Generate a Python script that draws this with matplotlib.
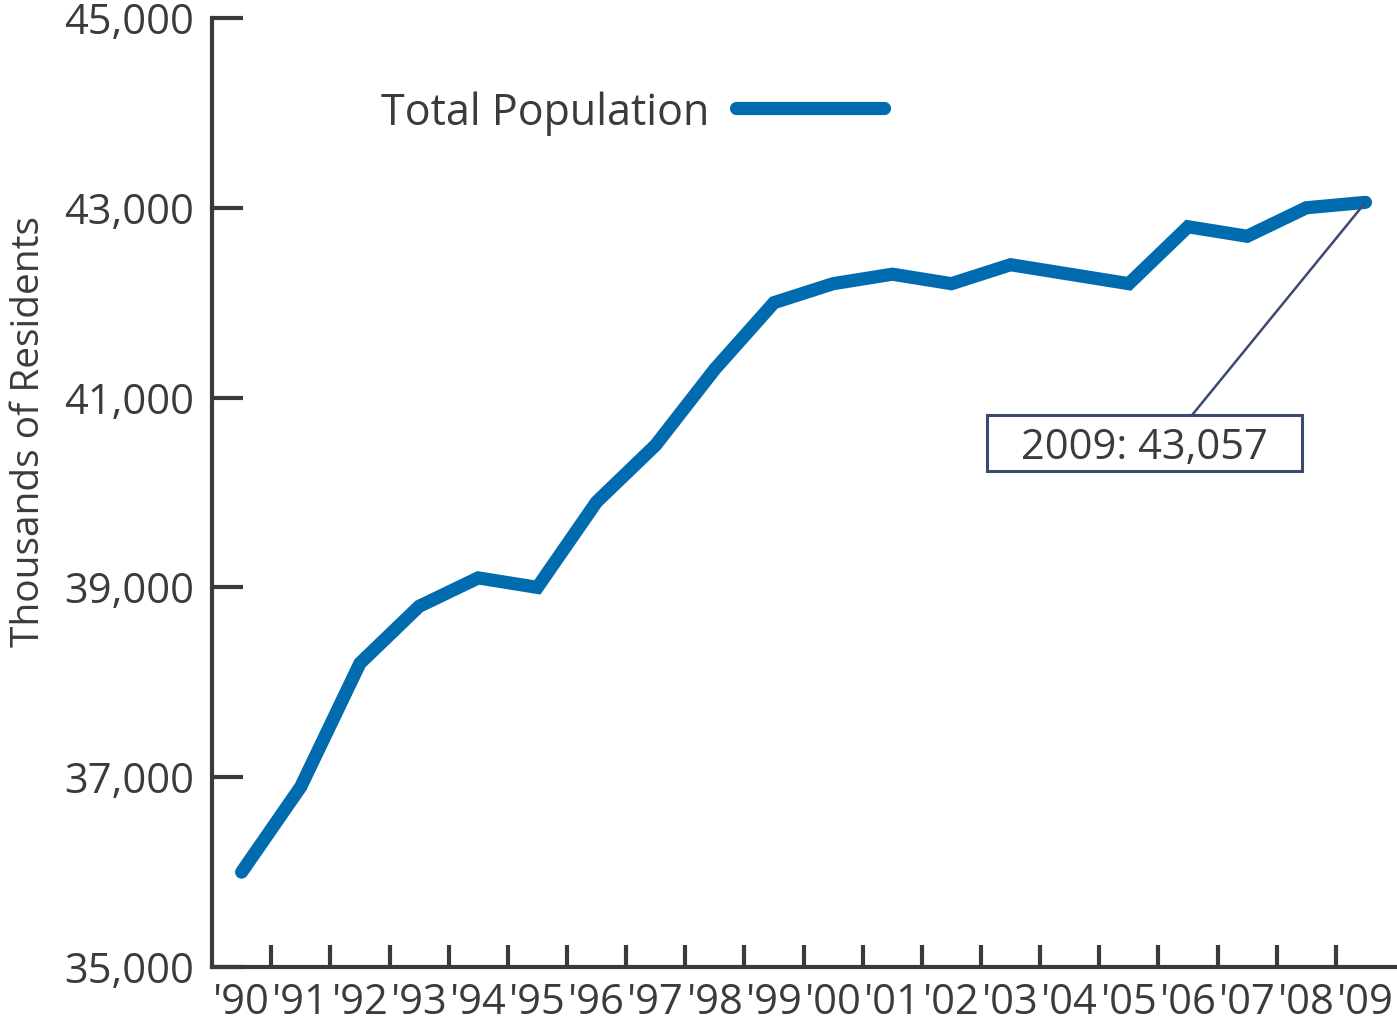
import matplotlib
matplotlib.use("Agg")
import matplotlib.pyplot as plt
from matplotlib.patches import Rectangle

years = ["'90", "'91", "'92", "'93", "'94", "'95", "'96", "'97", "'98", "'99",
         "'00", "'01", "'02", "'03", "'04", "'05", "'06", "'07", "'08", "'09"]
population = [36000, 36900, 38200, 38800, 39100, 39000, 39900, 40500, 41300, 42000,
              42200, 42300, 42200, 42400, 42300, 42200, 42800, 42700, 43000, 43057]
y_ticks = [35000, 37000, 39000, 41000, 43000, 45000]
y_tick_labels = ["35,000", "37,000", "39,000", "41,000", "43,000", "45,000"]
series_label = "Total Population"
annotation_text = "2009: 43,057"
y_label = "Thousands of Residents"

plt.rcParams['font.family'] = ['Open Sans', 'DejaVu Sans']
text_color = "#3b3b3b"
line_color = "#006bae"
axis_color = "#3a3a3a"
box_color = "#3d4a6e"

fig = plt.figure(figsize=(13.97, 10.26), dpi=100)
ax = fig.add_axes([0.1518, 0.0575, 0.8468, 0.925])

x = list(range(len(years)))
ax.plot(x, population, color=line_color, lw=9.5, solid_capstyle='round',
        solid_joinstyle='miter', zorder=3)

ax.set_xlim(-0.5, len(years) - 0.5)
ax.set_ylim(y_ticks[0], y_ticks[-1])

for s in ['top', 'right']:
    ax.spines[s].set_visible(False)
for s in ['left', 'bottom']:
    ax.spines[s].set_color(axis_color)
    ax.spines[s].set_linewidth(3)

ax.set_yticks(y_ticks)
ax.set_yticklabels(y_tick_labels)
ax.tick_params(axis='y', direction='in', length=22, width=3, color=axis_color,
               labelsize=30, labelcolor=text_color, pad=13)

ax.set_xticks([i + 0.5 for i in range(len(years) - 1)])
ax.set_xticklabels([])
ax.tick_params(axis='x', which='major', direction='in', length=16, width=3, color=axis_color)
ax.set_xticks(x, minor=True)
ax.set_xticklabels(years, minor=True)
ax.tick_params(axis='x', which='minor', length=0, labelsize=30,
               labelcolor=text_color, pad=11)

ax.set_ylabel(y_label, fontsize=28, color=text_color)
ax.yaxis.set_label_coords(-0.139, 0.564)

# legend
fig.text(0.508, 0.8947, series_label, ha='right', va='center_baseline',
         fontsize=31, color=text_color)
fig.add_artist(plt.Line2D([0.527, 0.633], [0.8947, 0.8947], transform=fig.transFigure,
                          color=line_color, lw=9.5, solid_capstyle='round'))

# annotation box with leader line
xt = len(years) - 1
box_x0, box_x1 = 12.60, 17.93
box_y0, box_y1 = 40227, 40817
ax.add_patch(Rectangle((box_x0, box_y0), box_x1 - box_x0, box_y1 - box_y0,
                       fc='white', ec=box_color, lw=2.2, zorder=4))
ax.text((box_x0 + box_x1) / 2, (box_y0 + box_y1) / 2, annotation_text,
        ha='center', va='center_baseline', fontsize=30, color=text_color, zorder=5)
ax.plot([16.07, xt], [box_y1, population[-1]], color=box_color, lw=1.8, zorder=4)

fig.savefig("out.png", dpi=100, facecolor='white')
